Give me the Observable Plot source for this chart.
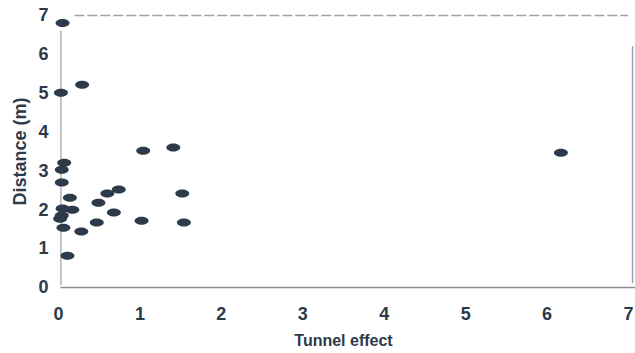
<!DOCTYPE html>
<html>
<head>
<meta charset="utf-8">
<script src="https://cdn.jsdelivr.net/npm/d3@7"></script>
<script src="https://cdn.jsdelivr.net/npm/@observablehq/plot@0.6"></script>
<style>
  body { margin: 0; background: #fff; }
</style>
</head>
<body>
<div id="chart"></div>
<script>
const tunnelEffect = [0.05, 0.03, 0.29, 1.04, 1.41, 0.07, 0.04, 0.04, 0.14, 0.60, 0.74, 1.52, 0.49, 0.05, 0.17, 0.68, 0.04, 0.02, 0.47, 1.02, 1.54, 0.06, 0.28, 0.11, 6.17];
const distance     = [6.81, 5.01, 5.22, 3.52, 3.60, 3.21, 3.03, 2.70, 2.31, 2.42, 2.52, 2.42, 2.18, 2.03, 2.00, 1.93, 1.85, 1.77, 1.67, 1.72, 1.67, 1.54, 1.44, 0.82, 3.47];
const xTicks = [0, 1, 2, 3, 4, 5, 6, 7];
const yTicks = [0, 1, 2, 3, 4, 5, 6, 7];

const data = tunnelEffect.map((t, i) => ({t, d: distance[i]}));

// ellipse symbol (wider than tall), drawn with bezier curves
const ellipse = {
  draw(ctx, size) {
    const rx = 7, ry = 4, k = 0.5523;
    ctx.moveTo(rx, 0);
    ctx.bezierCurveTo(rx, ry * k, rx * k, ry, 0, ry);
    ctx.bezierCurveTo(-rx * k, ry, -rx, ry * k, -rx, 0);
    ctx.bezierCurveTo(-rx, -ry * k, -rx * k, -ry, 0, -ry);
    ctx.bezierCurveTo(rx * k, -ry, rx, -ry * k, rx, 0);
    ctx.closePath();
  }
};

const ink = "#2c3a4a";
const frameGray = "#8a8f94";

const chart = Plot.plot({
  width: 635,
  height: 353,
  marginLeft: 58,
  marginRight: 7,
  marginTop: 15,
  marginBottom: 66,
  style: {fontFamily: "Liberation Sans, Arial, sans-serif", color: ink, background: "#fff", fontSize: "18px"},
  x: {domain: [0, 7]},
  y: {domain: [0, 7]},
  marks: [
    Plot.ruleY([7], {stroke: "#a0a4a8", strokeWidth: 1.5, strokeDasharray: "10,3", x1: 0.2, x2: 7}),
    Plot.ruleY([0], {stroke: frameGray, strokeWidth: 1.5, x1: 0.03, x2: 7.1}),
    Plot.ruleX([0.03], {stroke: frameGray, strokeWidth: 1, y1: 0.05, y2: 6.6}),
    Plot.ruleX([7.05], {stroke: "#9aa4ae", strokeWidth: 1.5, y1: 0.1, y2: 6.2}),
    Plot.axisX({ticks: xTicks, tickFormat: d3.format("d"), tickSize: 0, tickPadding: 20, fontSize: 18, fontWeight: "bold", fill: ink,
      label: "Tunnel effect", labelAnchor: "center", labelArrow: "none", labelOffset: 58}),
    Plot.axisY({ticks: yTicks, tickFormat: d3.format("d"), tickSize: 0, tickPadding: 10, fontSize: 18, fontWeight: "bold", fill: ink,
      label: "Distance (m)", labelAnchor: "center", labelArrow: "none", labelOffset: 45}),
    Plot.dot(data, {x: "t", y: "d", symbol: ellipse, fill: ink, stroke: "none"})
  ]
});

// style the axis labels
chart.querySelectorAll("g[aria-label='x-axis label'] text").forEach(t => {
  t.setAttribute("font-size", "16");
  t.setAttribute("font-weight", "600");
  t.setAttribute("fill", ink);
});
chart.querySelectorAll("g[aria-label='y-axis label'] text").forEach(t => {
  t.setAttribute("font-size", "18");
  t.setAttribute("font-weight", "600");
  t.setAttribute("fill", ink);
});

document.getElementById("chart").appendChild(chart);
</script>
</body>
</html>
